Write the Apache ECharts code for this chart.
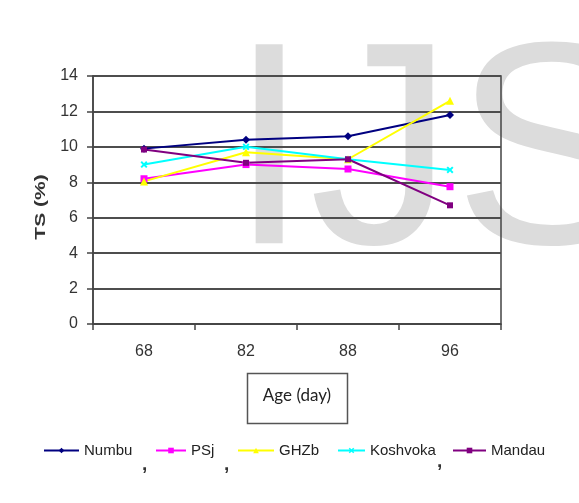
<!DOCTYPE html>
<html>
<head>
<meta charset="utf-8">
<script src="https://cdn.jsdelivr.net/npm/echarts@6/dist/echarts.min.js"></script>
<style>
  html, body { margin: 0; padding: 0; background: #fff; }
  #chart { width: 579px; height: 503px; }
</style>
</head>
<body>
<div id="chart"></div>
<script>
// Harvest age (days) and total solids (%) per variety
const ages = ['68', '82', '88', '96'];
const numbu    = [9.9, 10.4, 10.6, 11.8];
const psj      = [8.2, 9.0, 8.75, 7.75];
const ghzb     = [8.05, 9.7, 9.3, 12.6];
const koshvoka = [9.0, 10.0, 9.3, 8.7];
const mandau   = [9.85, 9.1, 9.3, 6.7];
const varieties = ['Numbu', 'PSj', 'GHZb', 'Koshvoka', 'Mandau'];

const tickFont = {
  fontFamily: '"Liberation Sans", Arial, sans-serif',
  fontSize: 16,
  color: '#333'
};

const crossPath = 'path://M0,2L2,0L5,3L8,0L10,2L7,5L10,8L8,10L5,7L2,10L0,8L3,5Z';

function line(name, data, color, symbol, size) {
  return {
    name: name,
    type: 'line',
    data: data,
    symbol: symbol,
    symbolSize: size,
    showSymbol: true,
    lineStyle: { color: color, width: 2 },
    itemStyle: { color: color },
    z: 3
  };
}

// one legend block per entry so each can sit at its own spot
const legendSlots = [
  { left: 43, width: 35 },
  { left: 155, width: 30 },
  { left: 237, width: 36 },
  { left: 337, width: 27 },
  { left: 452, width: 33 }
];
const legends = varieties.map((name, i) => ({
  data: [name],
  left: legendSlots[i].left,
  top: 443,
  padding: 0,
  itemWidth: legendSlots[i].width,
  itemHeight: 7,
  textStyle: {
    fontFamily: '"Liberation Sans", Arial, sans-serif',
    fontSize: 15,
    color: '#222'
  }
}));

function comma(x, y) {
  return {
    type: 'text', z: 6, x: x, y: y,
    style: { text: ',', font: 'bold 19px "Liberation Sans", sans-serif', fill: '#333', verticalAlign: 'bottom' }
  };
}

const chart = echarts.init(document.getElementById('chart'), null, { renderer: 'canvas' });
chart.setOption({
  animation: false,
  backgroundColor: '#fff',
  grid: {
    left: 93, right: 78, top: 76, bottom: 179, containLabel: false,
    show: true, borderColor: '#444', borderWidth: 1.5, backgroundColor: 'transparent'
  },
  graphic: [
    // faint letterhead mark behind the plot
    {
      type: 'text', z: -10, silent: true,
      left: 229, top: 19,
      style: {
        text: 'IJS',
        font: '289px "Liberation Sans", Arial, sans-serif',
        fill: '#dcdcdc'
      }
    },
    // vertical axis title, drawn tall and condensed
    {
      type: 'text', z: 6,
      x: 41, y: 207,
      rotation: Math.PI / 2,
      scaleX: 1.5,
      style: {
        text: 'TS (%)',
        font: 'bold 14px "Liberation Sans", Arial, sans-serif',
        fill: '#333',
        align: 'center', verticalAlign: 'middle'
      }
    },
    // boxed x-axis title
    {
      type: 'rect', z: 5,
      shape: { x: 247.5, y: 373.5, width: 100, height: 50 },
      style: { fill: '#fff', stroke: '#555', lineWidth: 1.5 }
    },
    {
      type: 'text', z: 6,
      x: 297, y: 396,
      style: {
        text: 'Age (day)',
        font: '17px Lato, "Open Sans", sans-serif',
        fill: '#222',
        align: 'center', verticalAlign: 'middle'
      }
    },
    // separators between legend entries
    comma(142, 474),
    comma(224, 474),
    comma(437, 471)
  ],
  legend: legends,
  xAxis: {
    type: 'category',
    data: ages,
    boundaryGap: true,
    axisLine: { show: true, lineStyle: { color: '#444', width: 1.5 } },
    axisTick: { show: true, inside: false, length: 6, lineStyle: { color: '#444', width: 1.5 } },
    axisLabel: Object.assign({ margin: 20 }, tickFont),
    splitLine: { show: false }
  },
  yAxis: {
    type: 'value',
    min: 0,
    max: 14,
    interval: 2,
    axisLine: { show: true, lineStyle: { color: '#444', width: 1.5 } },
    axisTick: { show: true, inside: false, length: 6, lineStyle: { color: '#444', width: 1.5 } },
    axisLabel: Object.assign({ margin: 15 }, tickFont),
    splitLine: { show: true, lineStyle: { color: '#4d4d4d', width: 2 } }
  },
  series: [
    line('Numbu', numbu, '#000080', 'diamond', 8),
    line('PSj', psj, '#ff00ff', 'rect', 7),
    line('GHZb', ghzb, '#ffff00', 'triangle', 8),
    line('Koshvoka', koshvoka, '#00ffff', crossPath, 7),
    line('Mandau', mandau, '#800080', 'rect', 6)
  ]
});
</script>
</body>
</html>
